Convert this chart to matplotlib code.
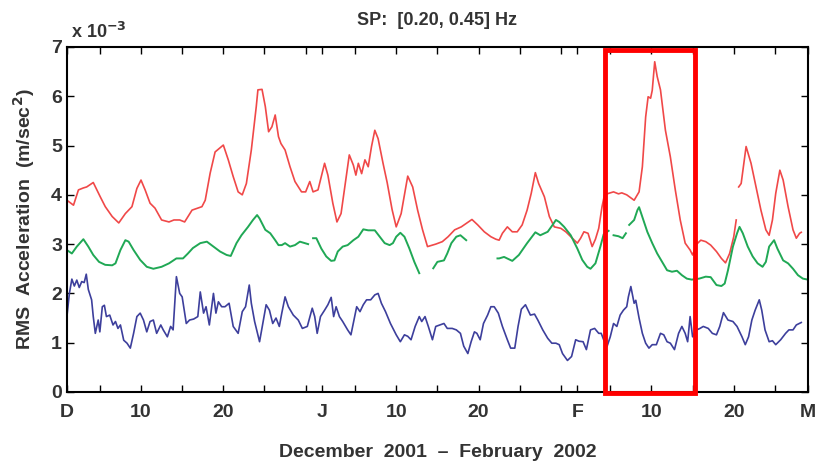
import numpy as np
import matplotlib
matplotlib.use('Agg')
import matplotlib.pyplot as plt
from matplotlib.patches import Rectangle

# days counted from 1 December 2001, values in units of 1e-3 m/sec^2
nan = np.nan

red_days = [0, 0.8, 1.4, 2.0, 2.4, 3.2, 4.05, 4.66, 5.5, 6.3, 7.1, 7.9, 8.5, 9.0, 9.5, 10.1, 10.7,
            11.5, 12.4, 13.0, 13.7, 14.3, 15.2, 16.4, 16.8, 17.4, 18.0, 19.0, 19.6, 20.2, 20.8,
            21.3, 21.8, 22.4, 23.0, 23.2, 23.7, 24.1, 24.5, 24.9, 25.3, 25.7, 26.0, 26.5, 27.1,
            27.7, 28.5, 29.0, 29.5, 29.9, 30.5, 30.9, 31.3, 31.7, 32.3, 32.8, 33.3, 33.7, 34.3,
            34.8, 35.1, 35.4, 35.8, 36.2, 36.6, 37.0, 37.4, 37.8, 38.4, 38.9, 39.5, 40.0, 40.6,
            41.4, 42.0, 42.6, 43.2, 43.8, 44.4, 44.8, 45.6, 46.3, 47.1, 47.9, 48.5, 49.2, 49.9,
            50.7, 51.5, 52.1, 52.5, 52.9, 53.5, 54.1, 54.7, 55.3, 55.9, 56.4, 56.9, 57.3, 58.0,
            58.6, 59.2, 60.0, 60.6, 61.4, 62.0, 62.4, 62.8, 63.3, 63.8, 64.2, 64.6, 65.0, 65.3,
            65.8, 66.4, 67.0, 67.4, 68.0, 68.9, 69.5, 69.9, 70.3, 70.6, 70.9, 71.1, 71.4, 71.7,
            72.1, 72.7, 73.3, 73.9, 74.5, 75.1, 75.7, 76.0, 76.5, 77.0, 77.6, 78.2, 78.9, 79.5,
            80.0, 80.5, 81.0, 81.3, 81.45, 81.6, 81.9, 82.5, 83.1, 83.7, 84.3, 84.9, 85.3, 85.7,
            86.1, 86.6, 87.0, 87.6, 88.2, 88.6, 89.0, 89.2]
red_vals = [3.89, 3.79, 4.10, 4.14, 4.16, 4.25, 3.96, 3.76, 3.56, 3.43, 3.62, 3.76, 4.13, 4.30,
            4.10, 3.83, 3.73, 3.49, 3.45, 3.49, 3.49, 3.45, 3.69, 3.76, 3.89, 4.44, 4.87, 5.01,
            4.71, 4.37, 4.06, 4.00, 4.23, 4.91, 5.79, 6.13, 6.14, 5.79, 5.28, 5.38, 5.62, 5.18,
            5.04, 4.91, 4.57, 4.27, 4.06, 4.06, 4.27, 4.06, 4.10, 4.37, 4.64, 4.40, 3.83, 3.45,
            3.62, 4.10, 4.81, 4.60, 4.40, 4.64, 4.43, 4.71, 4.57, 4.98, 5.31, 5.14, 4.64, 4.25,
            3.70, 3.35, 3.62, 4.38, 4.16, 3.69, 3.29, 2.95, 2.98, 3.00, 3.05, 3.15, 3.29, 3.35,
            3.42, 3.50, 3.39, 3.25, 3.15, 3.10, 3.08, 3.22, 3.35, 3.25, 3.25, 3.39, 3.69, 4.03,
            4.45, 4.23, 3.96, 3.56, 3.35, 3.32, 3.25, 3.12, 3.02, 3.12, 3.25, 3.22, 2.95, 3.10,
            3.32, 3.76, 4.00, 4.03, 4.06, 4.02, 4.04, 4.00, 3.89, 4.06, 4.57, 5.58, 5.99, 5.96,
            6.12, 6.70, 6.40, 6.13, 5.31, 4.77, 4.10, 3.49, 3.02, 2.88, 2.78, 3.00, 3.08, 3.05,
            2.98, 2.85, 2.71, 2.62, 2.81, 3.15, 3.49, nan, 4.16, 4.23, 4.98, 4.64, 4.16, 3.69,
            3.29, 3.18, 3.49, 4.03, 4.50, 4.30, 3.76, 3.29, 3.12, 3.22, 3.24]

green_days = [0, 0.6, 1.2, 2.0, 2.6, 3.2, 3.9, 4.65, 5.5, 5.9, 6.5, 7.1, 7.5, 8.1, 8.9, 9.7, 10.5,
              11.5, 12.4, 13.3, 14.1, 14.7, 15.3, 16.2, 17.0, 17.8, 18.6, 19.4, 19.9, 20.6, 21.2,
              22.0, 22.6, 23.1, 23.4, 24.1, 24.7, 25.3, 25.7, 26.1, 26.5, 27.1, 27.7, 28.3, 28.7,
              29.3, 29.6, 29.9, 30.3, 30.9, 31.5, 32.1, 32.5, 32.9, 33.5, 34.1, 34.8, 35.4, 36.0,
              36.6, 37.4, 38.0, 38.6, 39.2, 39.6, 40.0, 40.5, 41.0, 41.6, 42.2, 42.8, 43.6, 44.5,
              45.0, 45.8, 46.2, 46.7, 47.3, 47.8, 48.5, 50.4, 52.3, 52.5, 53.1, 54.1, 54.9, 55.9,
              56.9, 57.5, 58.4, 59.0, 59.4, 59.8, 60.4, 61.2, 62.0, 62.6, 63.2, 63.6, 64.2, 64.8,
              65.2, 65.8, 66.1, 66.4, 67.0, 67.5, 67.9, 68.1, 68.3, 68.9, 69.3, 69.5, 69.9, 70.5,
              71.1, 71.7, 72.3, 72.9, 73.5, 74.1, 74.7, 75.3, 75.9, 76.8, 77.6, 78.2, 78.9, 79.5,
              79.9, 80.3, 80.9, 81.4, 81.7, 82.1, 82.7, 83.3, 83.9, 84.5, 84.9, 85.3, 85.9, 86.3,
              87.0, 87.6, 88.2, 88.8, 89.4, 90.0]
green_vals = [2.88, 2.81, 2.95, 3.10, 2.95, 2.78, 2.64, 2.58, 2.57, 2.61, 2.88, 3.08, 3.05, 2.88,
              2.68, 2.54, 2.50, 2.54, 2.61, 2.71, 2.71, 2.81, 2.92, 3.02, 3.05, 2.95, 2.85, 2.78,
              2.76, 3.02, 3.18, 3.35, 3.49, 3.59, 3.52, 3.29, 3.22, 3.08, 2.98, 2.98, 3.02, 2.95,
              2.98, 3.05, 3.03, 3.00, nan, 3.12, 3.12, 2.91, 2.75, 2.66, 2.67, 2.85, 2.95, 2.98,
              3.08, 3.15, 3.30, 3.28, 3.28, 3.15, 3.02, 2.98, 3.02, 3.15, 3.23, 3.15, 2.91, 2.64,
              2.41, nan, 2.51, 2.64, 2.67, 2.81, 3.02, 3.15, 3.18, 3.08, nan, 2.71, 2.71, 2.74,
              2.66, 2.78, 3.02, 3.24, 3.18, 3.25, 3.39, 3.49, 3.45, 3.35, 3.18, 2.91, 2.68, 2.54,
              2.50, 2.61, 2.95, 3.20, 3.27, nan, 3.18, 3.16, 3.12, 3.22, nan, 3.39, 3.49, 3.69,
              3.75, 3.55, 3.25, 3.02, 2.81, 2.64, 2.47, 2.44, 2.46, 2.37, 2.30, 2.28, 2.30, 2.34,
              2.33, 2.17, 2.15, 2.20, 2.47, 2.95, 3.22, 3.35, 3.22, 2.95, 2.75, 2.61, 2.54, 2.64,
              2.95, 3.08, 2.91, 2.67, 2.61, 2.50, 2.37, 2.30, 2.28]

blue_days = [0, 0.3, 0.6, 0.9, 1.2, 1.5, 1.8, 2.1, 2.35, 2.6, 3.0, 3.2, 3.45, 3.8, 4.0, 4.3, 4.55,
             4.8, 5.2, 5.6, 5.9, 6.2, 6.5, 6.9, 7.3, 7.7, 8.1, 8.5, 8.9, 9.3, 9.7, 10.1, 10.5,
             10.9, 11.4, 11.7, 12.2, 12.6, 12.9, 13.3, 13.7, 14.0, 14.5, 14.9, 15.4, 15.9, 16.2,
             16.6, 16.9, 17.3, 17.8, 18.1, 18.4, 18.8, 19.2, 19.7, 20.2, 20.8, 21.3, 21.7, 22.15,
             22.4, 22.8, 23.4, 23.8, 24.2, 24.6, 25.0, 25.4, 25.8, 26.1, 26.5, 26.9, 27.5, 28.1,
             28.6, 29.2, 29.8, 30.1, 30.4, 30.8, 31.3, 31.7, 32.1, 32.4, 32.7, 33.1, 33.5, 34.1,
             34.5, 35.2, 35.6, 36.0, 36.4, 36.9, 37.4, 37.8, 38.2, 38.7, 39.3, 40.0, 40.5, 41.0,
             41.4, 41.8, 42.3, 42.8, 43.1, 43.5, 43.9, 44.4, 44.8, 45.3, 45.8, 46.2, 46.8, 47.3,
             47.8, 48.2, 48.7, 49.1, 49.5, 49.8, 50.2, 50.6, 51.1, 51.5, 51.9, 52.4, 52.9, 53.5,
             53.9, 54.4, 54.8, 55.2, 55.7, 56.3, 56.8, 57.2, 57.8, 58.4, 58.9, 59.4, 59.8, 60.2,
             60.8, 61.3, 61.8, 62.2, 62.7, 63.1, 63.6, 64.1, 64.6, 64.9, 65.2, 65.6, 66.0, 66.4,
             66.8, 67.2, 67.6, 68.0, 68.2, 68.5, 68.9, 69.1, 69.5, 69.9, 70.3, 70.7, 71.1, 71.6,
             72.1, 72.5, 72.9, 73.3, 73.8, 74.3, 74.7, 75.1, 75.4, 75.7, 76.0, 76.5, 76.9, 77.3,
             77.9, 78.4, 78.9, 79.3, 79.75, 80.3, 80.9, 81.4, 82.0, 82.4, 82.8, 83.2, 83.6, 84.1,
             84.4, 84.8, 85.3, 85.7, 86.1, 86.7, 87.3, 87.7, 88.2, 88.6, 89.2]
blue_vals = [1.53, 2.00, 2.29, 2.15, 2.27, 2.12, 2.24, 2.22, 2.39, 2.08, 1.87, 1.53, 1.19, 1.46,
             1.22, 1.73, 1.76, 1.53, 1.56, 1.36, 1.43, 1.29, 1.36, 1.05, 0.99, 0.89, 1.19, 1.53,
             1.60, 1.46, 1.22, 1.43, 1.46, 1.19, 1.36, 1.26, 1.12, 1.33, 1.26, 2.34, 2.00, 1.93,
             1.39, 1.46, 1.48, 1.53, 2.03, 1.60, 1.73, 1.36, 2.00, 1.60, 1.83, 1.73, 1.73, 1.80,
             1.33, 1.19, 1.63, 1.73, 2.17, 1.80, 1.43, 1.02, 1.39, 1.77, 1.66, 1.39, 1.50, 1.33,
             1.60, 1.93, 1.73, 1.56, 1.46, 1.29, 1.33, 1.70, 1.53, 1.19, 1.53, 1.66, 1.77, 1.92,
             1.53, 1.73, 1.53, 1.43, 1.26, 1.16, 1.73, 1.63, 1.77, 1.87, 1.87, 1.97, 2.00, 1.80,
             1.63, 1.39, 1.16, 1.02, 1.16, 1.13, 1.06, 1.33, 1.53, 1.43, 1.53, 1.33, 1.06, 1.33,
             1.36, 1.39, 1.29, 1.29, 1.26, 1.19, 0.93, 0.78, 1.02, 1.22, 1.19, 1.06, 1.39, 1.56,
             1.73, 1.73, 1.60, 1.33, 1.06, 0.89, 0.89, 1.33, 1.68, 1.77, 1.56, 1.58, 1.46, 1.26,
             1.09, 0.99, 0.99, 0.96, 0.78, 0.64, 0.72, 1.06, 1.03, 1.02, 0.86, 1.26, 1.29, 1.19,
             1.19, 1.06, 0.92, 1.12, 1.39, 1.33, 1.56, 1.66, 1.73, 1.93, 2.14, 1.80, 1.86, 1.50,
             1.19, 0.99, 0.89, 0.96, 0.96, 1.19, 1.16, 1.02, 0.99, 0.86, 1.19, 1.33, 1.19, 1.02,
             1.53, 1.12, 1.26, 1.29, 1.33, 1.29, 1.19, 1.16, 1.33, 1.61, 1.46, 1.43, 1.33, 1.12,
             0.96, 1.12, 1.46, 1.66, 1.87, 1.66, 1.26, 1.02, 1.04, 0.96, 1.06, 1.19, 1.26, 1.26,
             1.36, 1.41]

# labelled ticks at the 1st, 10th and 20th of each month, plain ticks on the 5th, 15th ...
label_days = [0, 9, 19, 31, 40, 50, 62, 71, 81, 90]
label_text = ['D', '10', '20', 'J', '10', '20', 'F', '10', '20', 'M']
plain_days = [4, 14, 24, 29, 35, 45, 55, 60, 66, 76, 86]

# highlighted window (days)
box_start, box_end = 65.4, 76.3

TEXT = '#333333'
plt.rcParams['font.family'] = ['Liberation Sans', 'DejaVu Sans']
plt.rcParams['font.weight'] = 'bold'

fig = plt.figure(figsize=(8.16, 4.65), dpi=100)
ax = fig.add_axes([0.082, 0.157, 0.908, 0.742])

ax.plot(red_days, red_vals, color='#f04848', lw=1.2)
ax.plot(green_days, green_vals, color='#20a855', lw=1.4)
ax.plot(blue_days, blue_vals, color='#3d3f9c', lw=1.2)

ax.set_xlim(0, 90)
ax.set_ylim(0, 7)
ax.set_xticks(label_days)
ax.set_xticklabels(label_text)
ax.set_xticks(plain_days, minor=True)
ax.set_yticks(range(8))
ax.tick_params(which='both', direction='in', top=True, right=True, length=5, width=1)
ax.tick_params(axis='x', pad=9)
ax.tick_params(labelsize=14, labelcolor=TEXT)
for side in ax.spines.values():
  side.set_linewidth(1.5)

ax.text(0.005, 1.015, r'x 10$^{-3}$', transform=ax.transAxes, fontsize=13, color=TEXT,
        va='bottom', fontweight='bold')
ax.set_title('SP:  [0.20, 0.45] Hz', fontsize=13, color=TEXT, pad=16, fontweight='bold')
ax.set_ylabel(r'RMS  Acceleration  (m/sec$^\mathbf{2}$)', fontsize=14, color=TEXT, labelpad=10,
              fontweight='bold')
ax.set_xlabel('December  2001  \u2013  February  2002', fontsize=14, color=TEXT, labelpad=16,
              fontweight='bold')

ax.add_patch(Rectangle((box_start, -0.02), box_end - box_start, 6.96, fill=False,
                       edgecolor='#ff0000', lw=3.5, clip_on=False, zorder=5))

fig.savefig('out.png', dpi=100)
